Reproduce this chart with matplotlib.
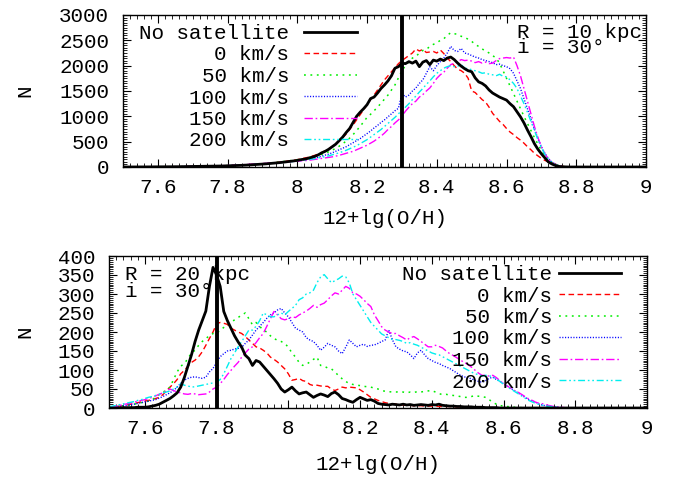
import numpy as np
import matplotlib
matplotlib.use("Agg")
import matplotlib.pyplot as plt
from matplotlib.ticker import MultipleLocator

# ---------------- data ----------------
x_start, x_step = 7.50, 0.01          # histogram bin centres 7.50 ... 8.80
x_end = 9.00                           # curves continue at zero up to 9.0

labels = ["No satellite", "0 km/s", "50 km/s", "100 km/s", "150 km/s", "200 km/s"]

# ---- upper panel: R = 10 kpc ----
top_nosat = [0,0,1,1,1,2,2,2,3,3, 3,4,4,5,5,6,6,7,8,8, 9,10,11,12,13,14,16,17,19,21,
             23,25,28,30,33,36,40,44,48,52, 57,62,68,74,80,87,95,103,112,122,
             130,145,155,170,190,210,240,280,310,350, 400,450,520,590,680,760,880,1000,1080,1150,
             1230,1350,1380,1460,1550,1620,1700,1800,1950,1980, 2050,2040,2080,2050,2090,1980,2070,2100,2020,2110,
             2090,2130,2100,2150,2170,2120,2050,1990,1940,1900, 1880,1760,1680,1650,1600,1520,1460,1420,1380,1350,
             1320,1250,1190,1090,990,870,730,600,460,350, 260,180,100,60,30,12,4,1,0,0, 0]
top_v0 = [0,0,1,1,1,2,2,2,3,3, 3,4,4,5,5,6,6,7,8,9, 10,11,12,13,14,16,18,20,22,24,
          26,29,32,35,38,42,46,50,55,60, 65,70,76,82,90,98,106,115,125,135,
          145,160,175,190,210,230,255,285,320,360, 405,455,510,580,650,740,830,930,1030,1130,
          1230,1330,1420,1520,1620,1720,1800,1880,1960,2040, 2100,2150,2200,2250,2330,2290,2320,2260,2270,2280,
          2250,2310,2240,2150,2080,2000,1930,1900,1850,1750, 1500,1470,1400,1330,1280,1180,1060,980,900,840,
          760,690,640,580,530,470,400,340,270,220, 170,130,100,75,55,30,12,4,1,0, 0]
top_v50 = [0,0,1,1,1,2,2,2,3,3, 3,4,4,5,5,6,6,7,8,9, 10,11,12,13,14,16,18,20,22,24,
           26,29,32,35,38,42,46,50,55,60, 65,70,76,82,90,98,106,115,125,135,
           145,155,165,180,195,210,230,250,275,300, 330,370,410,460,510,570,640,720,800,890,
           980,1040,1110,1180,1260,1340,1420,1520,1620,1760, 1900,2000,2080,2150,2180,2250,2300,2320,2380,2420,
           2450,2500,2530,2600,2650,2630,2620,2580,2560,2520, 2480,2420,2380,2330,2290,2250,2200,2150,2050,1900,
           1750,1600,1450,1300,1150,1000,860,720,580,450, 330,230,150,90,50,25,10,3,1,0, 0]
top_v100 = [0,0,1,1,1,2,2,2,3,3, 3,4,4,5,5,6,6,7,8,9, 10,11,12,13,14,15,17,19,21,23,
            25,27,30,33,36,40,44,48,52,56, 60,65,70,75,80,86,92,98,105,112,
            120,130,140,150,165,180,195,215,235,255, 280,310,340,370,400,440,480,520,560,610,
            660,710,770,820,880,930,990,1050,1110,1160, 1450,1380,1420,1500,1560,1650,1720,1850,1980,1900,
            2000,2080,2150,2250,2380,2300,2280,2340,2250,2230, 2200,2170,2150,2120,2100,2080,2060,2020,2030,2000,
            1980,1940,1850,1700,1550,1350,1150,950,750,560, 400,270,170,100,55,25,10,3,1,0, 0]
top_v150 = [0,0,1,1,1,2,2,2,3,3, 4,4,5,5,6,6,7,8,9,10, 11,12,13,14,16,18,20,22,24,27,
            30,33,36,40,44,48,52,56,60,65, 70,74,78,82,86,90,95,100,105,110,
            115,120,125,130,140,150,160,170,180,190, 200,215,230,250,270,290,310,340,370,400,
            430,470,510,560,610,670,740,800,870,930, 1000,1100,1180,1250,1300,1380,1430,1500,1560,1650,
            1750,1820,1870,1950,2020,2050,2080,2120,2100,2110, 2090,2060,2080,2050,2070,2040,2050,2100,2140,2150,
            2160,2150,2170,2000,1800,1550,1300,1050,800,580, 400,260,160,90,45,20,8,2,0,0, 0]
top_v200 = [0,0,1,1,1,2,2,2,3,3, 3,4,4,5,5,6,6,7,8,9, 10,11,12,13,14,16,18,20,22,24,
            26,28,31,34,37,40,44,48,52,56, 60,65,70,75,80,86,92,98,105,112,
            120,128,136,145,155,165,178,190,205,220, 240,260,280,305,330,360,390,420,460,500,
            540,590,640,690,740,800,860,920,980,1050, 1120,1180,1250,1330,1400,1480,1550,1630,1700,1780,
            1850,1900,1950,1980,2000,1980,1990,2020,1950,1940, 1920,1900,1880,1850,1860,1830,1820,1800,1830,1790,
            1780,1720,1650,1550,1400,1250,1080,900,720,540, 380,250,150,85,45,20,8,2,0,0, 0]

# ---- lower panel: R = 20 kpc ----
bot_nosat = [0,0,0,0,1,1,1,1,2,2, 2,3,5,7,10,15,20,25,32,40, 55,80,110,140,175,205,230,255,320,370,
             350,320,254,230,210,190,174,160,139,130, 112,125,121,110,99,88,77,65,50,42,
             48,55,45,37,40,42,35,28,33,37, 34,30,38,42,35,25,22,18,15,22,
             28,24,20,22,18,12,10,9,8,10, 9,8,10,8,9,7,8,9,8,7,
             9,8,10,7,6,5,5,4,4,3, 3,3,2,2,2,1,1,1,1,0,
             0,0,0,0,0,0,0,0,0,0, 0,0,0,0,0,0,0,0,0,0, 0]
bot_v0 = [2,3,4,5,6,8,10,12,14,16, 18,20,22,25,28,35,45,55,64,75, 90,99,110,120,126,135,148,165,183,200,
          222,225,223,220,210,205,200,196,188,179, 170,161,158,152,145,134,128,121,112,103,
          90,73,75,78,72,70,62,59,60,58, 57,57,50,46,50,55,53,55,54,53,
          48,42,35,28,24,20,17,14,12,11, 10,9,8,7,7,6,6,6,5,5,
          5,5,4,4,4,4,3,3,3,2, 2,2,2,1,1,1,1,1,0,0,
          0,0,0,0,0,0,0,0,0,0, 0,0,0,0,0,0,0,0,0,0, 0]
bot_v50 = [2,3,4,5,6,7,8,10,12,14, 16,18,22,28,35,42,46,55,75,95, 110,117,130,145,152,165,175,183,190,196,
           196,205,212,219,225,232,238,245,250,235, 219,225,215,205,200,190,183,178,175,170,
           160,145,134,120,112,115,121,128,134,112, 110,105,103,95,85,77,70,64,62,60,
           59,57,56,55,52,50,46,44,43,42, 42,43,42,40,42,41,43,42,44,45,
           46,42,38,35,36,34,33,32,30,28, 28,30,33,31,30,28,22,15,10,6,
           6,4,3,2,1,1,0,0,0,0, 0,0,0,0,0,0,0,0,0,0, 0]
bot_v100 = [2,3,4,5,6,7,8,10,12,14, 16,18,20,22,26,30,35,40,46,55, 65,73,78,81,82,80,78,81,95,104,
            120,135,143,150,152,155,157,160,170,179, 192,205,215,225,236,245,250,258,262,250,
            240,225,210,205,200,185,179,175,165,152, 160,170,165,161,150,143,160,179,170,161,
            165,168,162,165,166,170,175,179,205,180, 161,155,150,148,140,130,145,152,140,130,
            125,120,117,112,108,104,98,92,86,82, 80,77,73,70,68,72,78,81,75,70,
            64,58,52,46,40,34,28,22,18,15, 10,7,6,4,3,2,1,0,0,0, 0]
bot_v150 = [2,3,5,7,9,11,13,15,18,20, 22,25,28,32,36,40,45,50,46,42, 40,37,36,38,37,35,36,37,42,50,
            55,64,75,88,99,110,120,134,145,155, 161,172,185,196,215,235,254,245,235,232,
            235,240,238,245,250,255,262,270,265,272, 276,285,295,303,300,310,320,315,303,300,
            294,285,275,267,245,230,214,205,200,196, 196,190,185,179,185,188,182,175,168,161,
            161,165,162,158,150,143,138,132,126,120, 115,108,100,92,86,86,84,86,80,72,
            64,58,52,46,42,36,30,24,20,15, 12,11,8,6,4,3,2,1,0,0, 0]
bot_v200 = [3,5,7,9,11,13,15,17,20,22, 25,28,30,33,36,40,42,45,50,55, 64,60,58,55,56,58,60,62,64,66,
            68,75,90,110,130,145,161,175,190,205, 205,215,230,250,245,240,240,245,250,245,
            254,262,270,285,290,300,303,310,330,345, 351,340,330,335,340,347,345,329,300,285,
            270,255,240,225,215,205,195,190,185,180, 180,178,175,170,172,168,165,160,155,150,
            145,142,140,135,130,125,120,115,110,105, 100,95,90,88,84,86,85,82,76,70,
            62,56,50,44,38,32,26,20,16,12, 9,7,5,4,3,2,1,0,0,0, 0]

top_series = [top_nosat, top_v0, top_v50, top_v100, top_v150, top_v200]
bot_series = [bot_nosat, bot_v0, bot_v50, bot_v100, bot_v150, bot_v200]

top_marker_x = 8.30   # thick vertical line, upper panel
bot_marker_x = 7.80   # thick vertical line, lower panel

top_note = "R = 10 kpc\ni = 30°"
bot_note = "R = 20 kpc\ni = 30°"

x_ticks = [7.6, 7.8, 8.0, 8.2, 8.4, 8.6, 8.8, 9.0]
x_ticklabels = ["7.6", "7.8", "8", "8.2", "8.4", "8.6", "8.8", "9"]

# ---------------- style ----------------
plt.rcParams['font.family'] = ['Liberation Mono', 'DejaVu Sans Mono']
plt.rcParams['font.size'] = 15

colors = ["black", "#ff0000", "#00ee00", "#0000ff", "#ff00ff", "#00eeee"]
widths = [2.0, 1.0, 1.1, 1.0, 1.0, 1.0]
dashes = [None, (4, 2.5), (1.2, 3), (0.8, 1.2), (6, 2, 1.2, 2), (5, 2, 1.2, 2, 1.2, 2)]

fig = plt.figure(figsize=(6.85, 4.79), dpi=100)
ax_top = fig.add_axes([123/685, 1-167/479, (646-123)/685, (167-15)/479])
ax_bot = fig.add_axes([109/685, 1-408/479, (647-109)/685, (408-256)/479])


def draw(ax, series, ylim, ymaj, ymin, marker_x):
    n = len(series[0])
    x = x_start + x_step*np.arange(n)
    nz = int(round((x_end - x[-1])/x_step))
    x_full = np.concatenate([x, x[-1] + x_step*np.arange(1, nz+1)])
    handles = []
    for vals, lab, c, w, d in zip(series, labels, colors, widths, dashes):
        y = np.concatenate([np.asarray(vals, float), np.zeros(nz)])
        ln, = ax.plot(x_full, y, color=c, lw=w, label=lab, zorder=3 if c == "black" else 2)
        if d is not None:
            ln.set_dashes(d)
        handles.append(ln)
    ax.axvline(marker_x, color="black", lw=2.8, zorder=4)
    ax.set_xlim(7.5, 9.0)
    ax.set_ylim(*ylim)
    ax.set_xticks(x_ticks)
    ax.set_xticklabels(x_ticklabels)
    ax.xaxis.set_minor_locator(MultipleLocator(0.02))
    ax.yaxis.set_major_locator(MultipleLocator(ymaj))
    ax.yaxis.set_minor_locator(MultipleLocator(ymin))
    ax.tick_params(which='both', direction='in', top=True, right=True)
    ax.tick_params(which='major', length=6, width=0.8)
    ax.tick_params(which='minor', length=3, width=0.6)
    ax.tick_params(axis='x', which='major', pad=8)
    ax.tick_params(axis='y', which='major', pad=10)
    for s in ax.spines.values():
        s.set_linewidth(1.0)
    ax.set_xlabel("12+lg(O/H)")
    ax.xaxis.label.set_va('center')
    ax.set_ylabel("N")
    ax.yaxis.label.set_va('center')
    return handles


h_top = draw(ax_top, top_series, (0, 3000), 500, 50, top_marker_x)
h_bot = draw(ax_bot, bot_series, (0, 400), 50, 5, bot_marker_x)

ax_top.xaxis.set_label_coords(0.5, (167-218)/152)
ax_bot.xaxis.set_label_coords(0.5, (408-465)/152)
ax_top.yaxis.set_label_coords((25-123)/523, 0.5)
ax_bot.yaxis.set_label_coords((25-109)/538, 0.5)


def right_legend(ax, handles, anchor, hlen, hpad):
    leg = ax.legend(handles=handles, loc='upper right', bbox_to_anchor=anchor,
                    frameon=False, markerfirst=False, handlelength=hlen,
                    handletextpad=hpad, labelspacing=0.12, borderpad=0,
                    borderaxespad=0, fontsize=15)
    for col in leg._legend_box._children[-1]._children:
        col.align = 'right'
    return leg


right_legend(ax_top, h_top, ((357-123)/523, (167-24)/152), 2.55, 0.7)
right_legend(ax_bot, h_bot, ((621-109)/538, (408-265)/152), 3.0, 0.3)

ax_top.text((517-123)/523, (167-40)/152, top_note, transform=ax_top.transAxes,
            ha='left', va='center', linespacing=0.78)
ax_bot.text((125-109)/538, (408-283)/152, bot_note, transform=ax_bot.transAxes,
            ha='left', va='center', linespacing=0.88)

fig.savefig("out.png", dpi=100)
